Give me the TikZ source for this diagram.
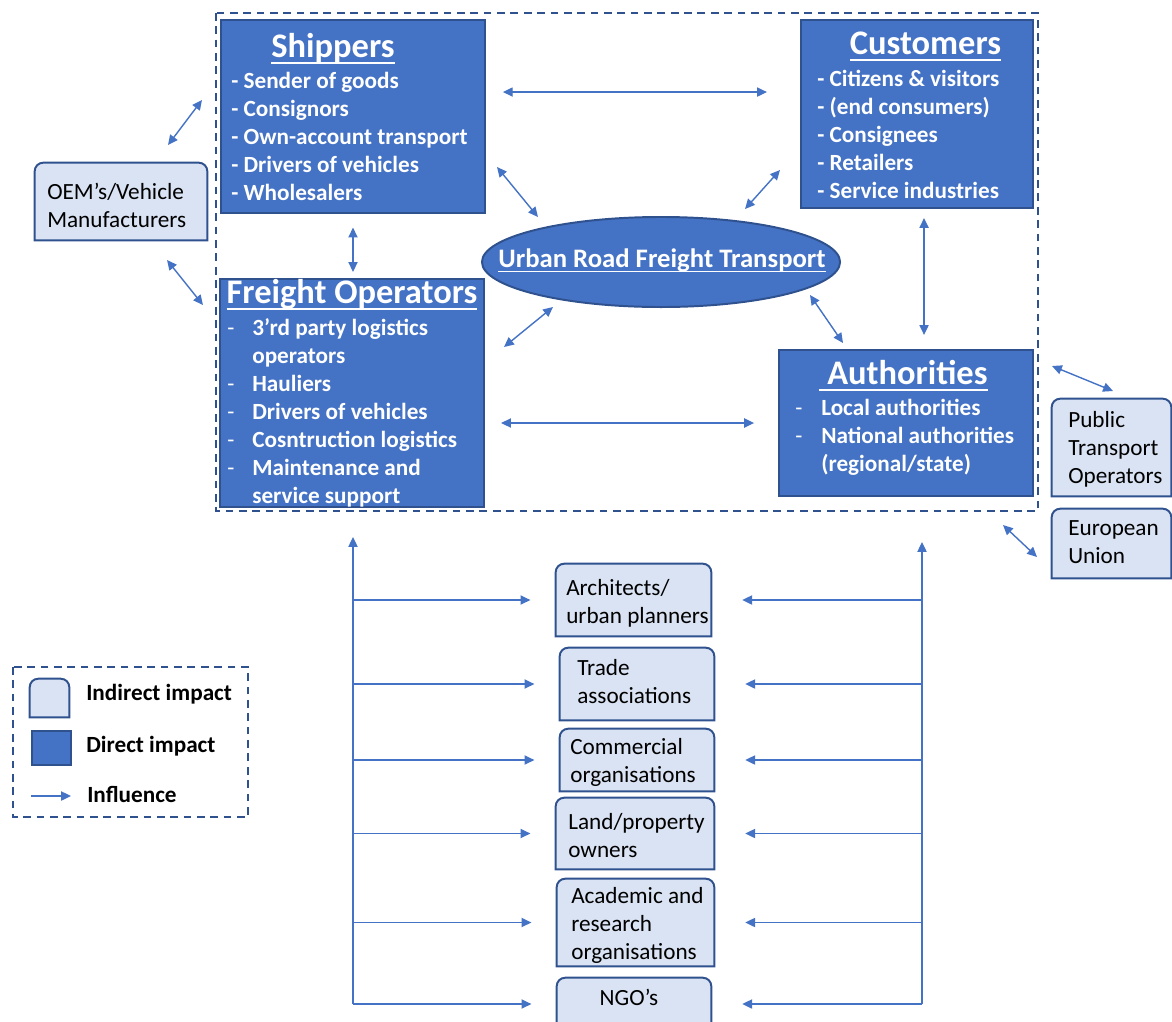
\documentclass[tikz,border=0pt]{standalone}
\usepackage{fontspec}
\setmainfont{Carlito}
\usetikzlibrary{shapes.geometric,arrows.meta,backgrounds}
\definecolor{darkBox}{HTML}{4472C4}
\definecolor{edgeBlue}{HTML}{2F528F}
\definecolor{lightBox}{HTML}{DAE3F3}
\newcommand{\uln}[2][3.5pt]{\leavevmode\vtop{\hbox{\smash{#2}}\kern#1\hrule height 1.2pt}}

\begin{document}
\begin{tikzpicture}[
    x=0.025cm, y=-0.025cm,
    >={Triangle[length=7pt,width=6.5pt]},
    arr/.style={line width=1pt, draw=darkBox},
    dir/.style={rectangle, draw=edgeBlue, line width=1.4pt, fill=darkBox, inner sep=0},
    ind/.style={rectangle, inner sep=0},
    indshape/.style={draw=edgeBlue, line width=1.4pt, fill=lightBox},
    frame/.style={draw=edgeBlue, line width=1.4pt, dash pattern=on 5.5pt off 4pt},
    title/.style={font=\fontsize{24.5}{29}\selectfont\bfseries, text=white, anchor=base, inner sep=0},
    item/.style={font=\fontsize{16.5}{19.9}\selectfont\bfseries, text=white, anchor=base west, inner sep=0, align=left},
    hyph/.style={font=\fontsize{16.5}{19.9}\selectfont, text=white, anchor=base west, inner sep=0},
    lbl/.style={font=\fontsize{16.5}{19.9}\selectfont, anchor=base west, inner sep=0, align=left},
    key/.style={font=\fontsize{16.5}{19.9}\selectfont\bfseries, anchor=base west, inner sep=0},
  ]
  \useasboundingbox (0,0) rectangle (1172,1021);

  \draw[frame] (216,13) rectangle (1038,511);
  \draw[frame] (13,667) rectangle (248,817);

  % direct impact
  \node[dir, minimum width=6.6cm, minimum height=4.8cm] (ship) at (353,116.5) {};
  \node[dir, minimum width=5.8cm, minimum height=4.7cm] (cust) at (917,114) {};
  \node[dir, minimum width=6.6cm, minimum height=5.7cm] (fo) at (352,393) {};
  \node[dir, minimum width=6.35cm, minimum height=3.65cm] (auth) at (906,423) {};
  \node[dir, ellipse, minimum width=8.95cm, minimum height=2.25cm] (urft) at (661,262) {};

  \node[title] (shipT) at (333,57) {\uln{Shippers}};
  \node[title] (custT) at (925.5,54) {\uln{Customers}};
  \node[title] (foT) at (352,303) {\uln{Freight Operators}};
  \node[title] (authT) at (903.5,384) {\uln{\ Authorities}};
  \node[title, font=\fontsize{19}{23}\selectfont\bfseries] (urftT) at (662,267)
    {\uln[2.5pt]{Urban Road Freight Transport}};

  % lists: anchored at the baseline of their last line
  \node[item] (shipL) at (231,200) {- Sender of goods\\- Consignors\\- Own-account transport\\- Drivers of vehicles\\- Wholesalers};
  \node[item] (custL) at (817,198) {- Citizens \& visitors\\- (end consumers)\\- Consignees\\- Retailers\\- Service industries};
  \node[item] (foL) at (252,503) {3’rd party logistics\\operators\\Hauliers\\Drivers of vehicles\\Cosntruction logistics\\Maintenance and\\service support};
  \foreach \i in {0,2,3,4,5}
    \node[hyph] (foD\i) at (227,{335+28*\i}) {-};
  \node[item] (authL) at (821,471) {Local authorities\\National authorities\\(regional/state)};
  \foreach \i in {0,1}
    \node[hyph] (authD\i) at (795,{415+28*\i}) {-};

  % indirect impact
  \node[ind, minimum width=4.3cm, minimum height=1.925cm] (oem) at (121,201.5) {};
  \node[ind, minimum width=2.975cm, minimum height=2.425cm] (pto) at (1111.5,447.5) {};
  \node[ind, minimum width=2.975cm, minimum height=1.725cm] (eu) at (1111.5,543.5) {};
  \node[ind, minimum width=3.875cm, minimum height=1.8cm] (arch) at (633.5,600) {};
  \node[ind, minimum width=3.85cm, minimum height=1.8cm] (trade) at (637,684) {};
  \node[ind, minimum width=3.85cm, minimum height=1.55cm] (comm) at (637,760) {};
  \node[ind, minimum width=3.95cm, minimum height=1.775cm] (land) at (635,833.5) {};
  \node[ind, minimum width=3.925cm, minimum height=2.175cm] (acad) at (635.5,922.5) {};
  \node[ind, minimum width=3.85cm, minimum height=1.3cm] (ngo) at (634,1004) {};
  \node[ind, minimum width=0.975cm, minimum height=0.95cm] (keyInd) at (49.5,698) {};
  \node[dir, minimum width=0.975cm, minimum height=0.85cm] (keyDir) at (51.5,748) {};

  \begin{scope}[on background layer]
    \foreach \n in {oem,pto,eu,arch,trade,comm,land,acad,ngo,keyInd}
      \draw[indshape] (\n.south west) -- ([yshift=-6pt]\n.north west)
        arc[start angle=180, end angle=90, radius=6pt] -- ([xshift=-6pt]\n.north east)
        arc[start angle=90, end angle=0, radius=6pt] -- (\n.south east) -- cycle;
  \end{scope}

  \node[lbl] (oemT) at (47,227) {OEM’s/Vehicle\\Manufacturers};
  \node[lbl] (ptoT) at (1068,483) {Public\\Transport\\Operators};
  \node[lbl] (euT) at (1068,563) {European\\Union};
  \node[lbl] (archT) at (566,623) {Architects/\\urban planners};
  \node[lbl] (tradeT) at (577,703) {Trade\\associations};
  \node[lbl] (commT) at (570,782) {Commercial\\organisations};
  \node[lbl] (landT) at (568,857) {Land/property\\owners};
  \node[lbl] (acadT) at (571,959) {Academic and\\research\\organisations};
  \node[lbl, anchor=base] (ngoT) at (629,1005) {NGO’s};

  \node[key] (keyIndT) at (86,700) {Indirect impact};
  \node[key] (keyDirT) at (86,752) {Direct impact};
  \node[key] (keyArrT) at (87,802) {Influence};

  % influence
  \coordinate (oemS) at (168,145);  \coordinate (shipO) at (202,100);
  \coordinate (oemF) at (167,260);  \coordinate (foO) at (203,305);
  \coordinate (shipU) at (497,167); \coordinate (urftS) at (538,217);
  \coordinate (custU) at (780,170); \coordinate (urftC) at (745,209);
  \coordinate (foU) at (504,347);   \coordinate (urftF) at (553,307);
  \coordinate (authU) at (843,343); \coordinate (urftA) at (810,295);
  \coordinate (authP) at (1052,366); \coordinate (ptoA) at (1113,391);
  \coordinate (authE) at (1003,525); \coordinate (euA) at (1037,557);
  \coordinate (lt) at (353,537);    \coordinate (lb) at (353,1004);
  \coordinate (rt) at (922,542);    \coordinate (rb) at (922,1004);
  \coordinate (keyA) at (31,796);   \coordinate (keyB) at (71,796);

  \draw[arr, <->, shorten <=12pt, shorten >=23.5pt] ([yshift=17.4pt]ship.east) -- ([yshift=17.4pt]ship.east -| cust.west);
  \draw[arr, <->, shorten <=11.4pt, shorten >=17pt] (fo.east |- auth.west) -- (auth.west);
  \draw[arr, <->, shorten <=10pt, shorten >=4.3pt] (ship.south) -- (ship.south |- fo.north);
  \draw[arr, <->, shorten <=6.4pt, shorten >=10pt] ([xshift=5pt]cust.south) -- ([xshift=5pt]cust.south |- auth.north);
  \draw[arr, <->] (oemS) -- (shipO);
  \draw[arr, <->] (oemF) -- (foO);
  \draw[arr, <->] (shipU) -- (urftS);
  \draw[arr, <->] (custU) -- (urftC);
  \draw[arr, <->] (foU) -- (urftF);
  \draw[arr, <->] (authU) -- (urftA);
  \draw[arr, <->] (authP) -- (ptoA);
  \draw[arr, <->] (authE) -- (euA);

  \draw[arr, ->] (lb) -- (lt);
  \draw[arr, ->] (rb) -- (rt);
  \foreach \n in {arch,trade,comm,land,acad,ngo}{
    \draw[arr, ->, shorten >=18pt] (lb |- \n.west) -- (\n.west);
    \draw[arr, ->, shorten >=22pt] (rb |- \n.east) -- (\n.east);
  }
  \draw[arr, ->] (keyA) -- (keyB);
\end{tikzpicture}
\end{document}
